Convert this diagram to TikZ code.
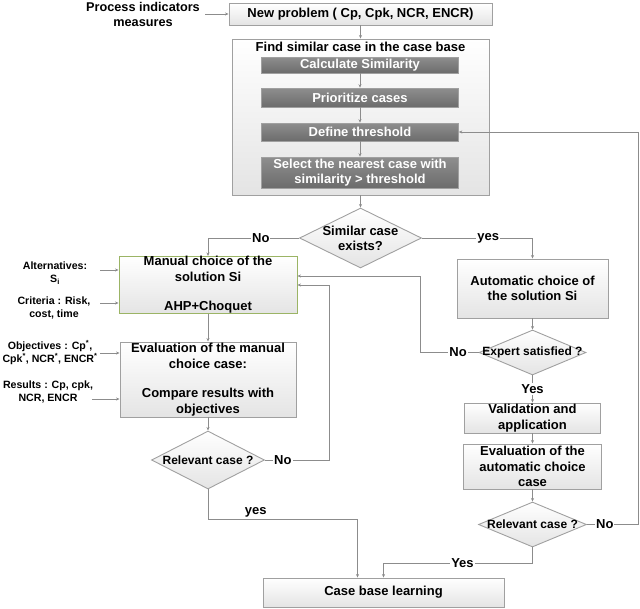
\documentclass[tikz,border=0pt]{standalone}
\usepackage{fontspec}
\setmainfont{Liberation Sans}
\usepackage{tikz}
\usepackage{xcolor}
\usetikzlibrary{shapes.geometric,arrows.meta}

\definecolor{linegray}{HTML}{8C8C8C}
\definecolor{boxline}{HTML}{A0A0A0}
\definecolor{boxbot}{HTML}{E4E4E4}
\definecolor{darktop}{HTML}{8E8E8E}
\definecolor{darkbot}{HTML}{6C6C6C}
\definecolor{olive}{HTML}{9BB465}

\begin{document}
\begin{tikzpicture}[x=1pt,y=-1pt,
	txt/.style={font=\bfseries\fontsize{13}{15.5}\selectfont, align=center, inner sep=0pt},
	box/.style={txt, draw=boxline, line width=0.9pt, top color=white, bottom color=boxbot},
	darkbox/.style={txt, draw=boxline, line width=0.6pt, top color=darktop, bottom color=darkbot, text=white, minimum width=197pt},
	choice/.style={diamond, draw=boxline, line width=0.9pt, top color=white, bottom color=boxbot, inner sep=0pt},
	dtxt/.style={font=\bfseries\fontsize{13}{15}\selectfont, align=center, inner sep=0pt},
	dsmall/.style={font=\bfseries\fontsize{12}{14}\selectfont, align=center, inner sep=0pt},
	side/.style={font=\bfseries\fontsize{10.6}{13}\selectfont, align=center, inner sep=0pt},
	conn/.style={draw=linegray, line width=0.9pt, -{Stealth[length=3.5pt,width=3pt]}},
	lbl/.style={font=\bfseries\fontsize{13}{15}\selectfont, fill=white, inner sep=1pt}]

	\useasboundingbox (0,0) rectangle (640,608);

	\node[txt, font=\bfseries\fontsize{12.7}{15}\selectfont, inner sep=5pt] (proc) at (143,14) {Process indicators\\measures};
	\node[box, minimum width=263pt, minimum height=22pt] (newp) at (360.5,14) {New problem ( Cp, Cpk, NCR, ENCR)};

	\node[box, minimum width=257pt, minimum height=156pt] (find) at (360.5,117) {};
	\node[txt] (findt) at (360.5,47) {Find similar case in the case base};
	\node[darkbox, minimum height=16pt] (calc) at (360,65) {Calculate Similarity};
	\node[darkbox, minimum height=19pt] (prio) at (360,97.5) {Prioritize cases};
	\node[darkbox, minimum height=18pt] (defth) at (360,132) {Define threshold};
	\node[darkbox, minimum height=31pt] (sel) at (360,172.5) {Select the nearest case with\\similarity > threshold};

	\node[choice, minimum width=122pt, minimum height=60pt, label={[dtxt]center:Similar case\\exists?}] (simd) at (360.5,238) {};

	\node[box, draw=olive, minimum width=178pt, minimum height=56pt] (manual) at (208,285) {Manual choice of the\\solution Si\\[14pt]AHP+Choquet};
	\node[box, minimum width=176pt, minimum height=75pt] (evalm) at (208,379.5) {Evaluation of the manual\\choice case:\\[14pt]Compare results with\\objectives};
	\node[choice, minimum width=113pt, minimum height=58pt, label={[dsmall]center:Relevant case ?}] (reld1) at (208,460) {};

	\node[box, minimum width=151pt, minimum height=59pt] (auto) at (532.5,288.5) {Automatic choice of\\the solution Si};
	\node[choice, minimum width=107pt, minimum height=45pt, label={[dsmall]center:Expert satisfied ?}] (expd) at (532.5,352.5) {};
	\node[box, minimum width=136pt, minimum height=30pt] (valid) at (532.5,418) {Validation and\\application};
	\node[box, minimum width=138pt, minimum height=45pt] (evala) at (532.5,466.5) {Evaluation of the\\automatic choice\\case};
	\node[choice, minimum width=108pt, minimum height=45pt, label={[dsmall]center:Relevant case ?}] (reld2) at (532.5,524.5) {};

	\node[box, minimum width=241pt, minimum height=29pt] (cbl) at (383.5,592.5) {Case base learning};

	\node[side] (alt) at (55,273) {Alternatives:\\S\textsubscript{i}};
	\node[side] (crit) at (54,308) {Criteria : Risk,\\cost, time};
	\node[side] (obj) at (50,353) {Objectives : Cp\textsuperscript{*},\\Cpk\textsuperscript{*}, NCR\textsuperscript{*}, ENCR\textsuperscript{*}};
	\node[side] (res) at (48,391.5) {Results : Cp, cpk,\\NCR, ENCR};

	\coordinate (altin) at (100,270);
	\coordinate (critin) at (100,303);
	\coordinate (objin) at (100,353);
	\coordinate (resin) at (92,399);
	\coordinate (exptn) at (420,352.5);
	\coordinate (backtn) at (638,524.5);
	\coordinate (relltn) at (329,460);
	\coordinate (learnr) at (532.5,563);
	\coordinate (learnl) at (208,519);

	\foreach \c/\b in {altin/manual, critin/manual, objin/evalm, resin/evalm} {
		\draw[conn] (\c) -- (\c -| \b.west);
	};

	\draw[conn] (proc) -- (newp);
	\draw[conn] (newp) -- (find);
	\foreach \a/\b in {calc/prio, prio/defth, defth/sel} {
		\draw[conn] (\a) -- (\b);
	};
	\draw[conn] (find) -- (simd);

	\draw[conn] (simd.west) -| node[lbl, pos=0.21] (no1) {No} (manual.north);
	\draw[conn] (simd.east) -| node[lbl, pos=0.3] (yes1) {yes} (auto.north);

	\draw[conn] (auto) -- (expd);
	\draw[conn] (expd.west) -- node[lbl, pos=0.35] (no2) {No} (exptn) |- ([yshift=9pt]manual.east);
	\draw[conn] (expd) -- node[lbl] (yes2) {Yes} (valid);
	\draw[conn] (valid) -- (evala);
	\draw[conn] (evala) -- (reld2);
	\draw[conn] (reld2.east) -- node[lbl, pos=0.35] (no3) {No} (backtn) |- (defth.east);
	\draw[conn] (reld2.south) -- (learnr) -| node[lbl, pos=0.235] (yes3) {Yes} (cbl.north);

	\draw[conn] (manual) -- (evalm);
	\draw[conn] (evalm) -- (reld1);
	\draw[conn] (reld1.east) -- node[lbl, pos=0.28] (no4) {No} (relltn) |- (manual.east);
	\draw[conn] (reld1.south) -- (learnl) -| node[lbl, above, pos=0.16] (yes4) {yes} ([xshift=-26pt]cbl.north);
\end{tikzpicture}
\end{document}
